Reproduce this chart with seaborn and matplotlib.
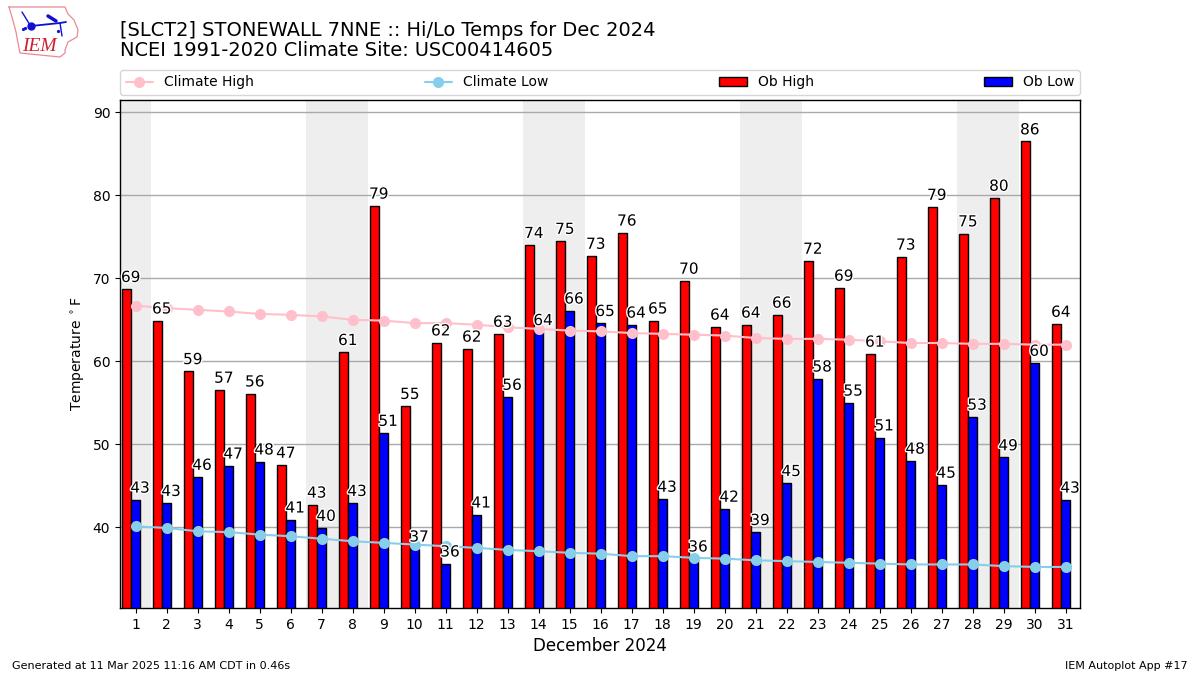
import numpy as np
import matplotlib
matplotlib.use("Agg")
import matplotlib.pyplot as plt
import matplotlib.patheffects as pe
import seaborn as sns

days = list(range(1, 32))
weekend_days = [1, 7, 8, 14, 15, 21, 22, 28, 29]

ob_high = [68.7, 64.9, 58.8, 56.55, 56.1, 47.5, 42.7, 61.1, 78.75, 54.6, 62.25,
           61.5, 63.3, 74.0, 74.5, 72.7, 75.5, 64.9, 69.7, 64.15, 64.4, 65.6,
           72.1, 68.85, 60.9, 72.6, 78.6, 75.4, 79.7, 86.5, 64.5]
ob_low = [43.3, 42.9, 46.05, 47.4, 47.9, 40.9, 39.9, 42.9, 51.35, 37.4, 35.6,
          41.5, 55.7, 63.5, 66.1, 64.6, 64.4, 43.4, 36.2, 42.2, 39.4, 45.3,
          57.9, 55.0, 50.8, 48.0, 45.1, 53.3, 48.4, 59.8, 43.3]
high_labels = [69, 65, 59, 57, 56, 47, 43, 61, 79, 55, 62, 62, 63, 74, 75, 73,
               76, 65, 70, 64, 64, 66, 72, 69, 61, 73, 79, 75, 80, 86, 64]
low_labels = [43, 43, 46, 47, 48, 41, 40, 43, 51, 37, 36, 41, 56, 64, 66, 65,
              64, 43, 36, 42, 39, 45, 58, 55, 51, 48, 45, 53, 49, 60, 43]
clim_high = [66.7, 66.4, 66.2, 66.0, 65.7, 65.6, 65.4, 65.0, 64.9, 64.6, 64.6,
             64.4, 64.1, 63.9, 63.7, 63.6, 63.4, 63.3, 63.2, 63.1, 62.8, 62.7,
             62.7, 62.6, 62.4, 62.2, 62.2, 62.1, 62.1, 62.0, 62.0]
clim_low = [40.1, 39.9, 39.5, 39.4, 39.1, 38.9, 38.6, 38.3, 38.1, 37.9, 37.7,
            37.5, 37.25, 37.1, 36.9, 36.8, 36.5, 36.5, 36.3, 36.2, 36.0, 35.9,
            35.8, 35.7, 35.6, 35.5, 35.5, 35.5, 35.3, 35.2, 35.2]

sns.set_theme(style="ticks", rc={"axes.edgecolor": "black", "xtick.color": "black",
                                 "ytick.color": "black", "text.color": "black",
                                 "axes.labelcolor": "black"})
plt.rcParams["font.family"] = ["DejaVu Sans"]

fig = plt.figure(figsize=(12, 6.75), dpi=100)
ax = fig.add_axes([120 / 1200, 1 - 608 / 675, 960 / 1200, 508 / 675])

for d in weekend_days:
    ax.axvspan(d - 0.5, d + 0.5, color="#eeeeee", lw=0, zorder=0)
ax.yaxis.grid(True, color="#aaaaaa", lw=1, zorder=1)
ax.set_axisbelow(True)

day_arr = np.array(days)
sns.barplot(x=day_arr - 0.3, y=ob_high, native_scale=True, width=0.3, color="red",
            saturation=1, edgecolor="black", linewidth=1, label="Ob High", ax=ax, zorder=2)
sns.barplot(x=day_arr, y=ob_low, native_scale=True, width=0.3, color="blue",
            saturation=1, edgecolor="black", linewidth=1, label="Ob Low", ax=ax, zorder=2)
sns.lineplot(x=days, y=clim_high, color="pink", marker="o", markersize=8, lw=1.5,
             markeredgewidth=0, label="Climate High", ax=ax, zorder=3)
sns.lineplot(x=days, y=clim_low, color="skyblue", marker="o", markersize=8, lw=1.5,
             markeredgewidth=0, label="Climate Low", ax=ax, zorder=3)

white = [pe.withStroke(linewidth=2, foreground="white")]
for d, v, lab in zip(days, ob_high, high_labels):
    ax.text(d - 0.16, v + 0.5, str(lab), ha="center", va="bottom", fontsize=11,
            path_effects=white, zorder=4)
for d, v, lab in zip(days, ob_low, low_labels):
    ax.text(d + 0.14, v + 0.5, str(lab), ha="center", va="bottom", fontsize=11,
            path_effects=white, zorder=4)

ax.set_xlim(0.494, 31.46)
ax.set_ylim(30.25, 91.5)
ax.set_xticks(days)
ax.set_xticklabels([str(d) for d in days])
ax.set_yticks(range(40, 100, 10))
ax.tick_params(labelsize=10, length=3.5, width=0.8)
ax.set_xlabel("December 2024", fontsize=12, labelpad=4)
ax.set_ylabel(r"Temperature $^\circ$F", fontsize=10)
for s in ax.spines.values():
    s.set_visible(True)
    s.set_linewidth(1)

handles, labels = ax.get_legend_handles_labels()
order = [labels.index(n) for n in ["Climate High", "Climate Low", "Ob High", "Ob Low"]]
ax.legend([handles[i] for i in order], [labels[i] for i in order], ncol=4, mode="expand",
          loc="lower left", bbox_to_anchor=(0, 1.01, 1, 0.05), borderaxespad=0, fontsize=10)

fig.text(120 / 1200, 1 - 30 / 675, "[SLCT2] STONEWALL 7NNE :: Hi/Lo Temps for Dec 2024",
         fontsize=13.95, va="center")
fig.text(120 / 1200, 1 - 51 / 675, "NCEI 1991-2020 Climate Site: USC00414605",
         fontsize=13.95, va="center")
fig.text(12 / 1200, 1 - 666 / 675, "Generated at 11 Mar 2025 11:16 AM CDT in 0.46s",
         fontsize=8, va="center")
fig.text(1188 / 1200, 1 - 666 / 675, "IEM Autoplot App #17", fontsize=8, va="center", ha="right")

# logo, roughly redrawn in pixels of the top left corner
logo = fig.add_axes([0, 1 - 65 / 675, 100 / 1200, 65 / 675])
logo.set_xlim(0, 100)
logo.set_ylim(65, 0)
logo.axis("off")
logo.plot([9, 65, 68, 74, 78, 77, 68, 65, 65, 60, 20, 18, 16, 12, 9],
          [7, 7, 14, 20, 30, 37, 42, 50, 53, 57, 53, 43, 32, 17, 7],
          color="#e88a96", lw=0.9)
logo.plot([31, 60, 66], [26, 23, 22], color="#1010d0", lw=1.3)
logo.plot([60, 62], [23, 36], color="#1010d0", lw=1)
logo.plot([22, 30], [12, 25], color="#1010d0", lw=1)
logo.plot([48, 56], [16, 21], color="#1010d0", lw=2.5)
logo.plot([31], [26], "o", color="#1010d0", ms=5)
logo.plot([23, 25, 58], [29, 28, 31], "o", color="#1010d0", ms=1.3)
logo.text(22, 51, "IEM", color="#d02030", fontsize=14, style="italic",
          family="Liberation Serif", va="baseline")

fig.savefig("out.png", dpi=100)
